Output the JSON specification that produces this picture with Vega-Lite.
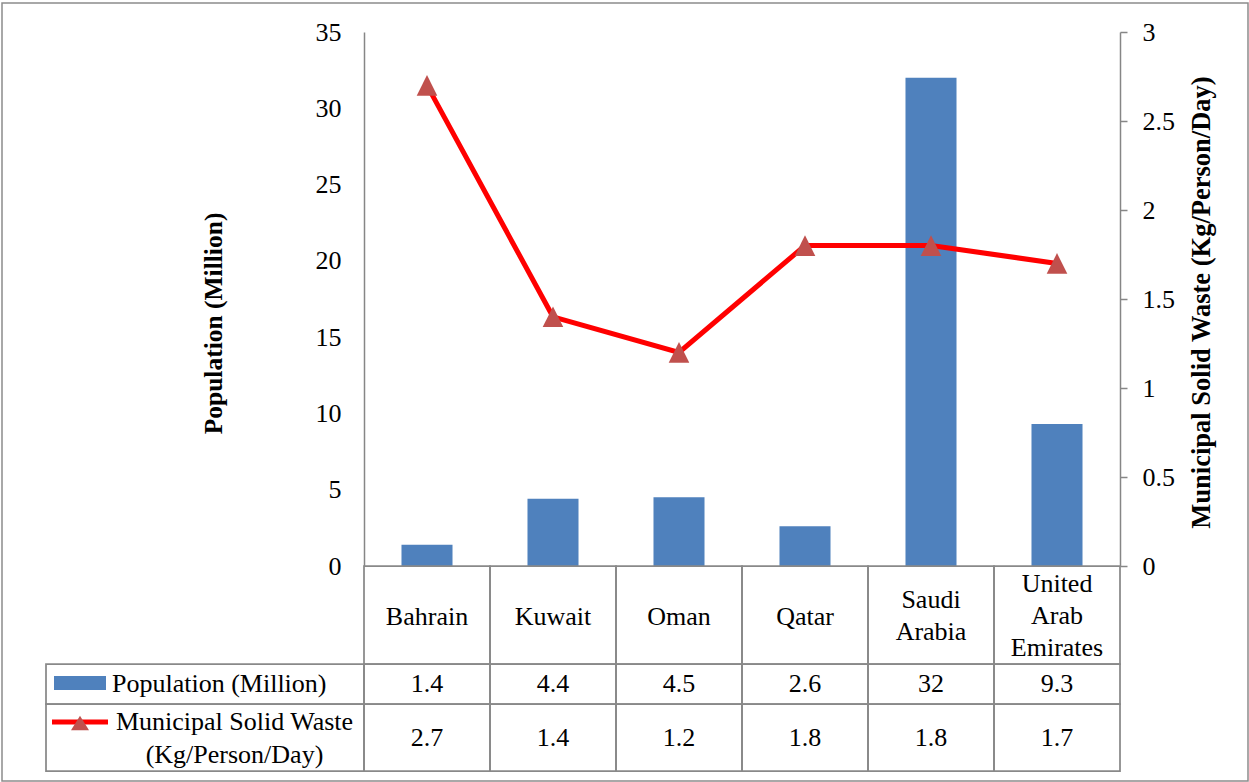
{
  "$schema": "https://vega.github.io/schema/vega-lite/v6.json",
  "width": 1246,
  "height": 778,
  "autosize": {"type": "none"},
  "padding": {"left": 2, "top": 3, "right": 1, "bottom": 1},
  "background": "white",
  "config": {
    "view": {"stroke": "#8c8c8c", "strokeWidth": 1.5},
    "font": "Liberation Serif",
    "text": {"font": "Liberation Serif", "fontSize": 26, "color": "#000000"}
  },
  "datasets": {
    "gcc": [
      {"country": "Bahrain", "label": "Bahrain", "population": 1.4, "msw": 2.7},
      {"country": "Kuwait", "label": "Kuwait", "population": 4.4, "msw": 1.4},
      {"country": "Oman", "label": "Oman", "population": 4.5, "msw": 1.2},
      {"country": "Qatar", "label": "Qatar", "population": 2.6, "msw": 1.8},
      {"country": "Saudi Arabia", "label": "Saudi\nArabia", "population": 32, "msw": 1.8},
      {"country": "United Arab Emirates", "label": "United\nArab\nEmirates", "population": 9.3, "msw": 1.7}
    ],
    "series": [
      {"series": "Population (Million)", "row": "pop"},
      {"series": "Municipal Solid Waste\n(Kg/Person/Day)", "row": "msw"}
    ]
  },
  "data": {"name": "gcc"},
  "resolve": {"scale": {"x": "independent", "y": "independent"}, "axis": {"x": "independent", "y": "independent"}},
  "layer": [
    {
      "mark": {"type": "bar", "color": "#4F81BD", "width": {"band": 0.405}},
      "encoding": {
        "x": {"field": "country", "type": "nominal", "axis": null,
              "scale": {"type": "band", "domain": ["Bahrain", "Kuwait", "Oman", "Qatar", "Saudi Arabia", "United Arab Emirates"], "range": [362, 1118], "paddingInner": 0, "paddingOuter": 0}},
        "y": {"field": "population", "type": "quantitative",
              "scale": {"domain": [0, 35], "range": [563, 29], "nice": false, "zero": false},
              "axis": {"orient": "left", "offset": -362, "values": [0, 5, 10, 15, 20, 25, 30, 35], "ticks": false, "grid": false,
                       "domainColor": "#868686", "domainWidth": 1.5, "labelFont": "Liberation Serif", "labelFontSize": 26, "labelColor": "#000000", "labelPadding": 23,
                       "title": "Population (Million)", "titleFont": "Liberation Serif", "titleFontSize": 25.5, "titleFontWeight": "bold", "titleColor": "#000000",
                       "titleX": -151, "titleY": 320, "titleAngle": -90, "titleAlign": "center", "titleBaseline": "middle"}}
      }
    },
    {
      "encoding": {
        "x": {"field": "country", "type": "nominal", "axis": null,
              "scale": {"type": "band", "domain": ["Bahrain", "Kuwait", "Oman", "Qatar", "Saudi Arabia", "United Arab Emirates"], "range": [362, 1118], "paddingInner": 0, "paddingOuter": 0}},
        "y": {"field": "msw", "type": "quantitative",
              "scale": {"domain": [0, 3], "range": [563, 29], "nice": false, "zero": false},
              "axis": {"orient": "right", "offset": -128, "values": [0, 0.5, 1, 1.5, 2, 2.5, 3], "format": "~g", "ticks": true, "tickSize": 7, "tickColor": "#868686", "tickWidth": 1.5, "grid": false,
                       "domainColor": "#868686", "domainWidth": 1.5, "labelFont": "Liberation Serif", "labelFontSize": 26, "labelColor": "#000000", "labelPadding": 15,
                       "title": "Municipal Solid Waste (Kg/Person/Day)", "titleFont": "Liberation Serif", "titleFontSize": 26.5, "titleFontWeight": "bold", "titleColor": "#000000",
                       "titleX": 81, "titleY": 299, "titleAngle": -90, "titleAlign": "center", "titleBaseline": "middle"}}
      },
      "layer": [
        {"mark": {"type": "line", "color": "#FF0000", "strokeWidth": 5}},
        {"mark": {"type": "point", "shape": "M0,-1L1,1L-1,1Z", "size": 424, "filled": true, "color": "#C0504D", "opacity": 1}}
      ]
    },
    {
      "encoding": {
        "x": {"field": "country", "type": "nominal", "axis": null,
              "scale": {"type": "band", "domain": ["Bahrain", "Kuwait", "Oman", "Qatar", "Saudi Arabia", "United Arab Emirates"], "range": [362, 1118], "paddingInner": 0, "paddingOuter": 0}},
        "y": {"datum": "cat", "type": "nominal", "axis": null, "scale": {"type": "band", "domain": ["cat"], "range": [563, 661], "paddingInner": 0, "paddingOuter": 0}}
      },
      "layer": [
        {"mark": {"type": "rect", "filled": false, "color": "#898989", "strokeWidth": 1.75}},
        {"transform": [{"filter": "length(split(datum.label, '\\n')) === 1"}],
         "mark": {"type": "text", "align": "center", "baseline": "middle", "lineBreak": "\n", "lineHeight": 32, "yOffset": 2}, "encoding": {"text": {"field": "label", "type": "nominal"}}},
        {"transform": [{"filter": "length(split(datum.label, '\\n')) === 2"}],
         "mark": {"type": "text", "align": "center", "baseline": "middle", "lineBreak": "\n", "lineHeight": 32, "yOffset": -15}, "encoding": {"text": {"field": "label", "type": "nominal"}}},
        {"transform": [{"filter": "length(split(datum.label, '\\n')) === 3"}],
         "mark": {"type": "text", "align": "center", "baseline": "middle", "lineBreak": "\n", "lineHeight": 32, "yOffset": -31}, "encoding": {"text": {"field": "label", "type": "nominal"}}}
      ]
    },
    {
      "encoding": {
        "x": {"field": "country", "type": "nominal", "axis": null,
              "scale": {"type": "band", "domain": ["Bahrain", "Kuwait", "Oman", "Qatar", "Saudi Arabia", "United Arab Emirates"], "range": [362, 1118], "paddingInner": 0, "paddingOuter": 0}},
        "y": {"datum": "pop", "type": "nominal", "axis": null, "scale": {"type": "band", "domain": ["pop"], "range": [661, 701], "paddingInner": 0, "paddingOuter": 0}}
      },
      "layer": [
        {"mark": {"type": "rect", "filled": false, "color": "#898989", "strokeWidth": 1.75}},
        {"mark": {"type": "text", "align": "center", "baseline": "middle"}, "encoding": {"text": {"field": "population", "type": "nominal"}}}
      ]
    },
    {
      "encoding": {
        "x": {"field": "country", "type": "nominal", "axis": null,
              "scale": {"type": "band", "domain": ["Bahrain", "Kuwait", "Oman", "Qatar", "Saudi Arabia", "United Arab Emirates"], "range": [362, 1118], "paddingInner": 0, "paddingOuter": 0}},
        "y": {"datum": "msw", "type": "nominal", "axis": null, "scale": {"type": "band", "domain": ["msw"], "range": [701, 768], "paddingInner": 0, "paddingOuter": 0}}
      },
      "layer": [
        {"mark": {"type": "rect", "filled": false, "color": "#898989", "strokeWidth": 1.75}},
        {"mark": {"type": "text", "align": "center", "baseline": "middle"}, "encoding": {"text": {"field": "msw", "type": "nominal"}}}
      ]
    },
    {
      "data": {"name": "series"},
      "transform": [{"filter": "datum.row === 'pop'"}],
      "encoding": {
        "x": {"datum": "legend", "type": "nominal", "axis": null, "scale": {"type": "band", "domain": ["legend"], "range": [44, 362], "paddingInner": 0, "paddingOuter": 0}},
        "y": {"datum": "pop", "type": "nominal", "axis": null, "scale": {"type": "band", "domain": ["pop"], "range": [661, 701], "paddingInner": 0, "paddingOuter": 0}}
      },
      "layer": [
        {"mark": {"type": "rect", "filled": false, "color": "#898989", "strokeWidth": 1.75}},
        {"mark": {"type": "point", "shape": "M-1,-0.27L1,-0.27L1,0.27L-1,0.27Z", "size": 2704, "filled": true, "color": "#4F81BD", "opacity": 1, "xOffset": -125, "yOffset": -1}},
        {"mark": {"type": "text", "align": "left", "baseline": "middle", "xOffset": -93}, "encoding": {"text": {"field": "series", "type": "nominal"}}}
      ]
    },
    {
      "data": {"name": "series"},
      "transform": [{"filter": "datum.row === 'msw'"}],
      "encoding": {
        "x": {"datum": "legend", "type": "nominal", "axis": null, "scale": {"type": "band", "domain": ["legend"], "range": [44, 362], "paddingInner": 0, "paddingOuter": 0}},
        "y": {"datum": "msw", "type": "nominal", "axis": null, "scale": {"type": "band", "domain": ["msw"], "range": [701, 768], "paddingInner": 0, "paddingOuter": 0}}
      },
      "layer": [
        {"mark": {"type": "rect", "filled": false, "color": "#898989", "strokeWidth": 1.75}},
        {"mark": {"type": "point", "shape": "M-1,-0.09L1,-0.09L1,0.09L-1,0.09Z", "size": 3136, "filled": true, "color": "#FF0000", "opacity": 1, "xOffset": -125, "yOffset": -15.5}},
        {"mark": {"type": "point", "shape": "M0,-0.8L1,0.8L-1,0.8Z", "size": 324, "filled": true, "color": "#C0504D", "opacity": 1, "xOffset": -125, "yOffset": -14.5}},
        {"mark": {"type": "text", "align": "center", "baseline": "middle", "lineBreak": "\n", "lineHeight": 33, "xOffset": 29.5, "yOffset": -16}, "encoding": {"text": {"field": "series", "type": "nominal"}}}
      ]
    }
  ]
}
